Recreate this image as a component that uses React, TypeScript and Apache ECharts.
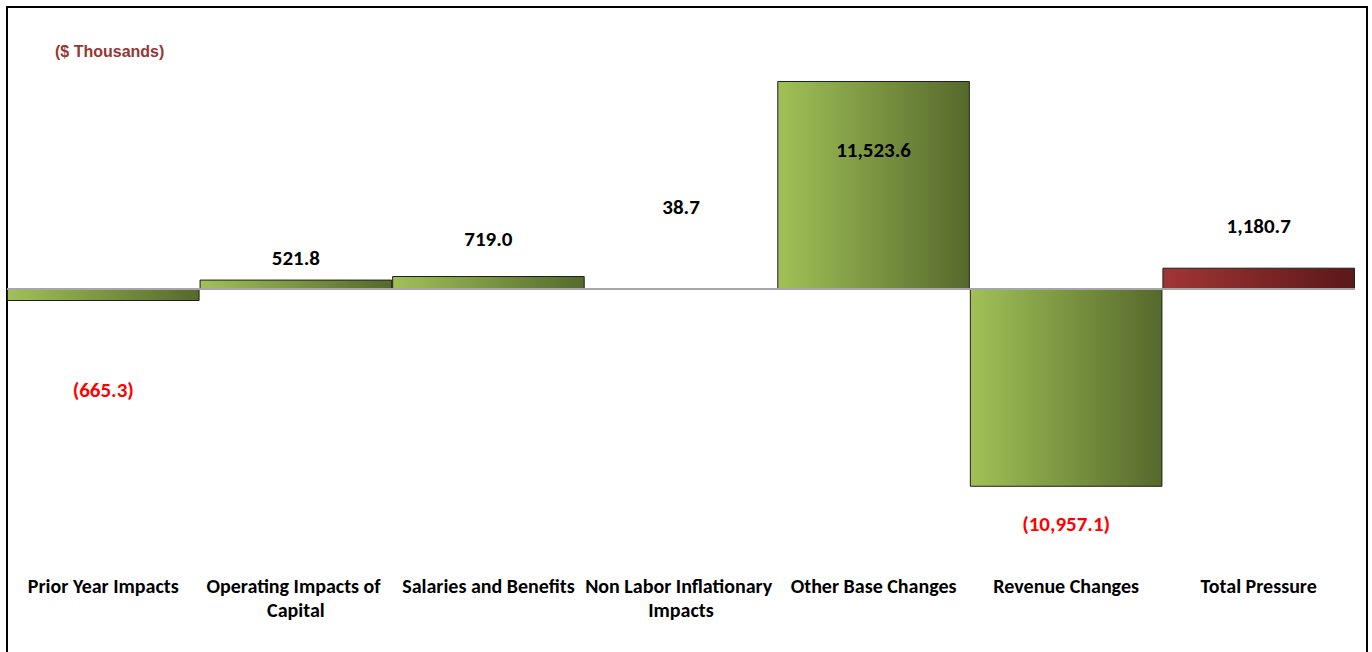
import React, { useEffect, useRef } from "react";
import * as echarts from "echarts";

const categories = [
  "Prior Year Impacts",
  "Operating Impacts of Capital",
  "Salaries and Benefits",
  "Non Labor Inflationary Impacts",
  "Other Base Changes",
  "Revenue Changes",
  "Total Pressure",
];
const values = [-665.3, 521.8, 719.0, 38.7, 11523.6, -10957.1, 1180.7];
const unitLabel = "($ Thousands)";

// label placement (styling only)
const labelDistances = [78, 11, 27, 71, 59, 27, 31];
const labelPositions = ["bottom", "top", "top", "top", "insideTop", "bottom", "top"];

const fmt = (v: number) => {
  const s = Math.abs(v).toLocaleString("en-US", { minimumFractionDigits: 1, maximumFractionDigits: 1 });
  return v < 0 ? `(${s})` : s;
};

const greenGrad = new echarts.graphic.LinearGradient(0, 0, 1, 0, [
  { offset: 0, color: "#a1c157" },
  { offset: 1, color: "#55692c" },
]);
const redGrad = new echarts.graphic.LinearGradient(0, 0, 1, 0, [
  { offset: 0, color: "#a13535" },
  { offset: 1, color: "#5c1818" },
]);

export default function App() {
  const ref = useRef<HTMLDivElement>(null);
  useEffect(() => {
    if (!ref.current) return;
    const chart = echarts.init(ref.current, null, { renderer: "svg" });
    const font = "Carlito, Lato, 'Liberation Sans', sans-serif";
    const data = values.map((v, i) => ({
      value: v,
      itemStyle: {
        color: i === values.length - 1 ? redGrad : greenGrad,
        borderColor: "#1e1e1e",
        borderWidth: 1,
      },
      label: {
        show: true,
        position: labelPositions[i],
        distance: labelDistances[i],
        color: v < 0 ? "#ff0000" : "#000",
      },
    }));
    chart.setOption({
      animation: false,
      backgroundColor: "#fff",
      graphic: [
        {
          type: "rect",
          shape: { x: 7, y: 7, width: 1360, height: 680 },
          style: { fill: "none", stroke: "#000", lineWidth: 2 },
          silent: true,
        },
        {
          type: "text",
          x: 55,
          y: 43,
          style: {
            text: unitLabel,
            fill: "#953735",
            font: "bold 16px 'Liberation Sans', Arial, sans-serif",
          },
        },
      ],
      grid: { left: 7, right: 17, top: 72.4, height: 487.35, containLabel: false },
      xAxis: {
        type: "category",
        data: categories,
        axisLine: { show: false, onZero: false },
        axisTick: { show: false },
        splitLine: { show: false },
        axisLabel: {
          interval: 0,
          margin: 14,
          color: "#000",
          fontWeight: "bold",
          fontSize: 20,
          lineHeight: 24,
          fontFamily: font,
          width: 200,
          overflow: "break",
        },
      },
      yAxis: {
        type: "value",
        min: -15000,
        max: 12000,
        show: false,
        splitLine: { show: false },
      },
      series: [
        {
          type: "bar",
          data,
          barCategoryGap: "0%",
          label: {
            show: true,
            fontWeight: "bold",
            fontSize: 21,
            fontFamily: font,
            formatter: (p: any) => fmt(p.value),
          },
          markLine: {
            silent: true,
            symbol: "none",
            label: { show: false },
            lineStyle: { color: "#a6a6a6", width: 2, type: "solid" },
            data: [{ yAxis: 0 }],
          },
        },
      ],
    });
    return () => chart.dispose();
  }, []);
  return (
    <div
      ref={ref}
      style={{ position: "fixed", left: 0, top: 0, width: 1372, height: 652, background: "#fff" }}
    />
  );
}
